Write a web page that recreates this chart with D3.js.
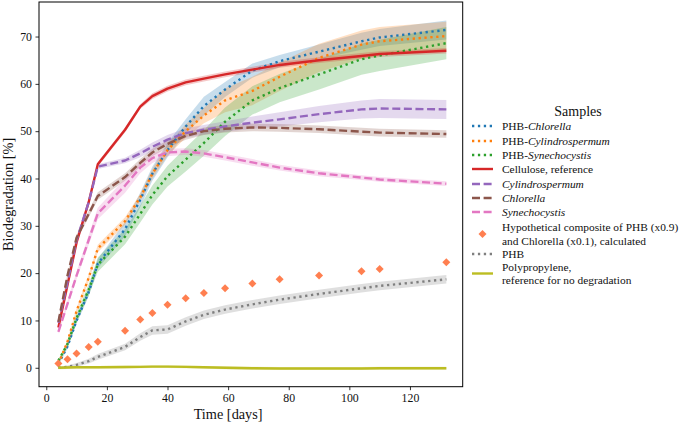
<!DOCTYPE html>
<html>
<head>
<meta charset="utf-8">
<script src="https://cdn.jsdelivr.net/npm/d3@7"></script>
<style>
  html, body { margin: 0; padding: 0; background: #fff; }
  svg { display: block; font-family: "Liberation Serif", "DejaVu Serif", serif; }
</style>
</head>
<body>
<svg id="chart" width="685" height="424"></svg>
<script>
// ---------------- DATA ----------------
const days = [4, 7, 10, 14, 17, 26, 31, 35, 40, 46, 52, 59, 68, 77, 90, 104, 110, 132];

const phbChlorella      = [0.8, 4.5, 10, 16, 22, 29.3, 35.5, 41, 46, 51, 55.3, 58.8, 62.8, 64.8, 66.8, 69, 69.8, 71.4];
const phbChlorellaErr   = [0.3, 0.5, 0.7, 0.9, 1.0, 1.5, 1.5, 1.5, 1.5, 1.5, 2.0, 1.6, 1.5, 1.3, 1.5, 1.8, 1.8, 2.0];
const phbCylindro       = [0.8, 5.5, 12, 19, 25.2, 31, 36, 41, 46, 50, 53.3, 56.5, 58.5, 61.5, 65.5, 68.3, 69, 70.1];
const phbCylindroErr    = [0.3, 0.5, 0.6, 0.7, 0.8, 0.8, 0.8, 1.0, 1.2, 1.4, 1.6, 2.5, 3.0, 3.0, 3.0, 3.0, 3.0, 3.0];
const phbSynecho        = [1.5, 5, 10.5, 16.5, 21.8, 27.7, 32.5, 36.5, 40.5, 44, 47.5, 52, 56.5, 59.1, 62, 65.2, 66, 68.6];
const phbSynechoErr     = [0.3, 0.6, 0.9, 1.2, 1.5, 1.6, 1.8, 2.0, 2.2, 2.5, 2.7, 3.0, 3.0, 3.0, 3.2, 3.3, 3.3, 3.4];
const cellulose         = [8.5, 17.5, 26.5, 35, 43, 50.3, 55.2, 57.4, 59, 60.3, 61.1, 62, 63, 64, 65, 65.9, 66.3, 67];
const celluloseErr      = [0.4, 0.4, 0.4, 0.5, 0.5, 0.5, 0.5, 0.6, 0.6, 0.6, 0.6, 0.6, 0.6, 0.6, 0.6, 0.6, 0.6, 0.6];
const cylindro          = [9.5, 18, 27, 35, 42.5, 43.8, 45.3, 46.7, 48.2, 49.6, 50.3, 51, 51.8, 52.5, 53.6, 54.6, 54.8, 54.6];
const cylindroErr       = [0.4, 0.4, 0.5, 0.5, 0.5, 0.6, 0.8, 0.9, 1.0, 1.0, 1.0, 1.1, 1.3, 1.5, 1.7, 1.9, 2.0, 2.0];
const chlorella         = [9.7, 19.5, 27.5, 32.5, 36.3, 40.3, 43.3, 45.5, 47.3, 49, 50, 50.5, 50.8, 50.7, 50.4, 49.9, 49.7, 49.4];
const chlorellaErr      = [0.4, 0.5, 0.6, 0.7, 0.8, 0.8, 0.8, 0.8, 0.8, 0.8, 0.8, 0.8, 0.8, 0.8, 0.8, 0.8, 0.8, 0.8];
const synecho           = [7.6, 13.5, 19.5, 27, 32.6, 38.5, 42.3, 44.3, 45.5, 45.7, 45.3, 44.5, 43.4, 42.3, 41.1, 40.2, 39.8, 38.9];
const synechoErr        = [0.4, 0.6, 0.8, 1.0, 1.2, 1.5, 1.2, 1.0, 0.8, 0.7, 0.7, 0.7, 0.7, 0.6, 0.6, 0.5, 0.5, 0.5];
const hypothetical      = [0.9, 1.8, 3.0, 4.4, 5.5, 7.8, 10.2, 11.6, 13.3, 14.7, 15.8, 16.8, 17.8, 18.7, 19.5, 20.4, 20.9, 22.3];
const phb               = [0, 0.2, 0.6, 1.4, 2.3, 4.4, 6.5, 7.9, 8.1, 9.8, 11.2, 12.3, 13.4, 14.4, 15.6, 16.8, 17.3, 18.7];
const phbErr            = [0.2, 0.3, 0.4, 0.5, 0.6, 0.7, 0.8, 0.9, 0.9, 0.9, 0.9, 0.9, 0.9, 0.9, 0.9, 0.9, 0.9, 0.9];
const polypropylene     = [0, 0.05, 0.1, 0.1, 0.1, 0.15, 0.2, 0.25, 0.25, 0.2, 0.1, 0.0, -0.1, -0.15, -0.15, -0.15, -0.1, -0.1];
const polypropyleneErr  = [0.3, 0.3, 0.3, 0.3, 0.3, 0.3, 0.3, 0.3, 0.3, 0.3, 0.3, 0.3, 0.3, 0.3, 0.3, 0.3, 0.3, 0.3];

const xTicks = [0, 20, 40, 60, 80, 100, 120];
const yTicks = [0, 10, 20, 30, 40, 50, 60, 70];

const xLabel = "Time [days]";
const yLabel = "Biodegradation [%]";
const legendTitle = "Samples";

// ---------------- STYLE ----------------
const colors = {
  blue: "#1f77b4", orange: "#ff7f0e", green: "#2ca02c", red: "#d62728",
  purple: "#9467bd", brown: "#8c564b", pink: "#e377c2", gray: "#7f7f7f",
  olive: "#bcbd22", coral: "#ff7f50"
};
const DOT = "2.3,3.6";
const DASH = "8,3.6";
const TEXT = "#111";
const LEG_FONT = 11.4;

const series = [
  { name: [["PHB-", false], ["Chlorella", true]], v: phbChlorella, e: phbChlorellaErr, color: colors.blue, dash: DOT },
  { name: [["PHB-", false], ["Cylindrospermum", true]], v: phbCylindro, e: phbCylindroErr, color: colors.orange, dash: DOT },
  { name: [["PHB-", false], ["Synechocystis", true]], v: phbSynecho, e: phbSynechoErr, color: colors.green, dash: DOT },
  { name: [["Cellulose, reference", false]], v: cellulose, e: celluloseErr, color: colors.red, dash: null },
  { name: [["Cylindrospermum", true]], v: cylindro, e: cylindroErr, color: colors.purple, dash: DASH },
  { name: [["Chlorella", true]], v: chlorella, e: chlorellaErr, color: colors.brown, dash: DASH },
  { name: [["Synechocystis", true]], v: synecho, e: synechoErr, color: colors.pink, dash: DASH },
  { name: null, v: phb, e: phbErr, color: colors.gray, dash: DOT },
  { name: null, v: polypropylene, e: polypropyleneErr, color: colors.olive, dash: null }
];

// ---------------- LAYOUT ----------------
const svg = d3.select("#chart");
const L = 39, R = 462.7, T = 2, B = 386.7;

const x = d3.scaleLinear().domain([-2.4, 137.4]).range([L, R]);
const y = d3.scaleLinear().domain([-4.0, 77.3]).range([B, T]);

const plot = svg.append("g");

const area = (vals, errs) => d3.area()
  .x((d, i) => x(days[i]))
  .y0((d, i) => y(vals[i] - errs[i]))
  .y1((d, i) => y(vals[i] + errs[i]))(vals);
const line = vals => d3.line().x((d, i) => x(days[i])).y(d => y(d))(vals);

series.forEach(s => {
  plot.append("path").attr("d", area(s.v, s.e))
    .attr("fill", s.color).attr("fill-opacity", 0.25).attr("stroke", "none");
});
series.forEach((s, idx) => {
  if (idx === 7) {
    plot.selectAll("path.diamond").data(hypothetical).enter().append("path")
      .attr("class", "diamond")
      .attr("d", d3.symbol().type(d3.symbolSquare).size(32)())
      .attr("transform", (d, i) => `translate(${x(days[i])},${y(d)}) rotate(45)`)
      .attr("fill", colors.coral);
  }
  plot.append("path").attr("d", line(s.v))
    .attr("fill", "none").attr("stroke", s.color)
    .attr("stroke-width", 2.4)
    .attr("stroke-dasharray", s.dash)
    .attr("stroke-linejoin", "round");
});

// frame
svg.append("rect").attr("x", L).attr("y", T).attr("width", R - L).attr("height", B - T)
  .attr("fill", "none").attr("stroke", "#000").attr("stroke-width", 1);

// axes
const xAxis = svg.append("g").attr("transform", `translate(0,${B})`)
  .call(d3.axisBottom(x).tickValues(xTicks).tickSize(3.5).tickPadding(3).tickFormat(d3.format("d")));
const yAxis = svg.append("g").attr("transform", `translate(${L},0)`)
  .call(d3.axisLeft(y).tickValues(yTicks).tickSize(3.5).tickPadding(3.5).tickFormat(d3.format("d")));
[xAxis, yAxis].forEach(a => {
  a.select(".domain").remove();
  a.selectAll(".tick line").attr("stroke", "#000").attr("stroke-width", 0.8);
  a.selectAll(".tick text").attr("font-family", "Liberation Serif, serif").attr("font-size", 11.8).attr("fill", TEXT);
});

svg.append("text").attr("x", x(60)).attr("y", 419).attr("text-anchor", "middle")
  .attr("font-size", 14.3).attr("fill", TEXT).text(xLabel);
svg.append("text").attr("transform", `translate(13,${(T + B) / 2}) rotate(-90)`)
  .attr("text-anchor", "middle").attr("font-size", 14.3).attr("fill", TEXT).text(yLabel);

// ---------------- LEGEND ----------------
const lg = svg.append("g");
const hx0 = 472, hx1 = 493, tx = 502;
lg.append("text").attr("x", 578).attr("y", 115.5).attr("text-anchor", "middle")
  .attr("font-size", 14).attr("fill", TEXT).text(legendTitle);

const entries = [
  { s: series[0], yc: 126 }, { s: series[1], yc: 141 }, { s: series[2], yc: 155 },
  { s: series[3], yc: 169 }, { s: series[4], yc: 184 }, { s: series[5], yc: 198 },
  { s: series[6], yc: 212 }
];
function addText(yc, parts) {
  const t = lg.append("text").attr("x", tx).attr("y", yc + 4).attr("font-size", LEG_FONT).attr("fill", TEXT);
  parts.forEach(p => t.append("tspan").attr("font-style", p[1] ? "italic" : "normal").text(p[0]));
}
function addHandle(yc, color, dash) {
  lg.append("line").attr("x1", hx0).attr("x2", hx1).attr("y1", yc).attr("y2", yc)
    .attr("stroke", color).attr("stroke-width", 2.4).attr("stroke-dasharray", dash);
}
entries.forEach(en => { addHandle(en.yc, en.s.color, en.s.dash); addText(en.yc, en.s.name); });

lg.append("path").attr("d", d3.symbol().type(d3.symbolSquare).size(32)())
  .attr("transform", `translate(${(hx0 + hx1) / 2},234) rotate(45)`).attr("fill", colors.coral);
addText(227.3, [["Hypothetical composite of PHB (x0.9)", false]]);
addText(240.5, [["and Chlorella (x0.1), calculated", false]]);
addHandle(254, colors.gray, DOT);
addText(254, [["PHB", false]]);
addHandle(273.5, colors.olive, null);
addText(266.8, [["Polypropylene,", false]]);
addText(280, [["reference for no degradation", false]]);
</script>
</body>
</html>
